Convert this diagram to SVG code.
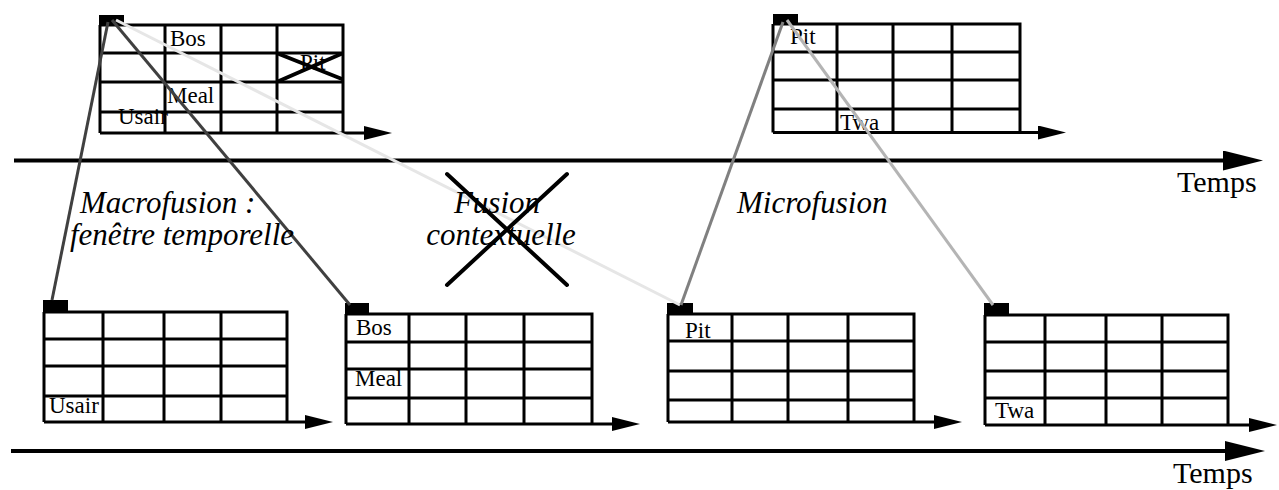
<svg xmlns="http://www.w3.org/2000/svg" width="1279" height="490" viewBox="0 0 1279 490">
<style>
  .grid { fill: none; stroke: #000; stroke-width: 3; }
  .tab { fill: #000; }
  .cell { font-family: "Liberation Serif", "Times New Roman", serif; font-size: 23px; fill: #000; }
  .lbl { font-family: "Liberation Serif", "Times New Roman", serif; font-size: 31px; font-style: italic; fill: #000; }
  .temps { font-family: "Liberation Serif", "Times New Roman", serif; font-size: 30px; fill: #000; }
  .axis { stroke: #000; stroke-width: 3; fill: none; }
  .small { stroke: #000; stroke-width: 3; fill: none; marker-end: url(#ahS); }
  .big { stroke: #000; stroke-width: 4; fill: none; marker-end: url(#ahB); }
  .conn { stroke-width: 3; fill: none; }
  .cross { stroke: #000; stroke-width: 4; stroke-linecap: round; }
</style>
<defs>
  <marker id="ahS" markerUnits="userSpaceOnUse" markerWidth="30" markerHeight="14" refX="5" refY="7" orient="auto">
    <path d="M0,0 L28,7 L0,14 z" fill="#000"/>
  </marker>
  <marker id="ahB" markerUnits="userSpaceOnUse" markerWidth="42" markerHeight="20" refX="5" refY="10" orient="auto">
    <path d="M0,0 L40,10 L0,20 z" fill="#000"/>
  </marker>
</defs>

<!-- time axes -->
<g id="axis-top">
  <line class="big" x1="14" y1="160.5" x2="1228" y2="160.5"/>
  <text class="temps" x="1177" y="192">Temps</text>
</g>
<g id="axis-bottom">
  <line class="big" x1="11" y1="451" x2="1230" y2="451"/>
  <text class="temps" x="1173" y="483">Temps</text>
</g>

<!-- top-left table -->
<g id="table-top-left">
  <rect class="tab" x="99" y="15" width="25" height="11"/>
  <path class="grid" d="M100,25 H343 V133 M100,25 V133 M165,25 V133 M221,25 V133 M277,25 V133 M100,53 H343 M100,82 H343 M100,112 H343"/>
  <line class="small" x1="100" y1="133" x2="369" y2="133"/>
  <text class="cell" x="170" y="46">Bos</text>
  <text class="cell" x="300" y="70">Pit</text>
  <line class="cross" stroke-width="3" x1="279" y1="81" x2="341" y2="54"/>
  <line class="cross" stroke-width="3" x1="279" y1="54" x2="342" y2="79"/>
  <text class="cell" x="167" y="103">Meal</text>
  <text class="cell" x="118" y="124">Usair</text>
</g>

<!-- top-right table -->
<g id="table-top-right">
  <rect class="tab" x="773" y="14" width="25" height="11"/>
  <path class="grid" d="M773,24 H1020 V132.5 M773,24 V132.5 M837,24 V132.5 M893,24 V132.5 M952,24 V132.5 M773,52 H1020 M773,80 H1020 M773,109 H1020"/>
  <line class="small" x1="773" y1="132.5" x2="1043" y2="132.5"/>
  <text class="cell" x="790" y="44">Pit</text>
  <text class="cell" x="840" y="130">Twa</text>
</g>

<!-- bottom tables -->
<g id="table-b1">
  <rect class="tab" x="43" y="300" width="25" height="12"/>
  <path class="grid" d="M44,312 H287 V422 M44,312 V422 M103,312 V422 M164,312 V422 M221,312 V422 M44,339 H287 M44,366 H287 M44,396 H287"/>
  <line class="small" x1="44" y1="422" x2="310" y2="422"/>
  <text class="cell" x="49" y="413">Usair</text>
</g>
<g id="table-b2">
  <rect class="tab" x="345" y="303" width="24" height="12"/>
  <path class="grid" d="M346,314 H592 V424 M346,314 V424 M409,314 V424 M466,314 V424 M524,314 V424 M346,342 H592 M346,369 H592 M346,398 H592"/>
  <line class="small" x1="346" y1="424" x2="617" y2="424"/>
  <text class="cell" x="356" y="335">Bos</text>
  <text class="cell" x="355" y="386">Meal</text>
</g>
<g id="table-b3">
  <rect class="tab" x="667" y="303" width="26" height="12"/>
  <path class="grid" d="M668,314 H914 V422 M668,314 V422 M732,314 V422 M788,314 V422 M848,314 V422 M668,341 H914 M668,371 H914 M668,400 H914"/>
  <line class="small" x1="668" y1="422" x2="939" y2="422"/>
  <text class="cell" x="685" y="338">Pit</text>
</g>
<g id="table-b4">
  <rect class="tab" x="984" y="303" width="25" height="12"/>
  <path class="grid" d="M985,315 H1228 V425 M985,315 V425 M1045,315 V425 M1106,315 V425 M1162,315 V425 M985,342 H1228 M985,371 H1228 M985,398 H1228"/>
  <line class="small" x1="985" y1="425" x2="1254" y2="425"/>
  <text class="cell" x="995" y="418">Twa</text>
</g>

<!-- connectors -->
<g id="connectors">
  <line class="conn" stroke="#e6e6e6" x1="116" y1="20" x2="680" y2="305"/>
  <line class="conn" stroke="#404040" x1="108" y1="22" x2="52" y2="300"/>
  <line class="conn" stroke="#404040" x1="112" y1="20" x2="350" y2="305"/>
  <line class="conn" stroke="#808080" x1="783" y1="22" x2="681" y2="305"/>
  <line class="conn" stroke="#b4b4b4" x1="787" y1="20" x2="993" y2="305"/>
</g>

<!-- labels -->
<g id="label-macro">
  <text class="lbl" x="80" y="213">Macrofusion :</text>
  <text class="lbl" x="70" y="245">fenêtre temporelle</text>
</g>
<g id="label-context">
  <text class="lbl" x="497" y="213" text-anchor="middle">Fusion</text>
  <text class="lbl" x="501" y="245" text-anchor="middle">contextuelle</text>
  <line class="cross" x1="447" y1="174" x2="567" y2="285"/>
  <line class="cross" x1="567" y1="174" x2="447" y2="285"/>
</g>
<g id="label-micro">
  <text class="lbl" x="737" y="213">Microfusion</text>
</g>
</svg>
